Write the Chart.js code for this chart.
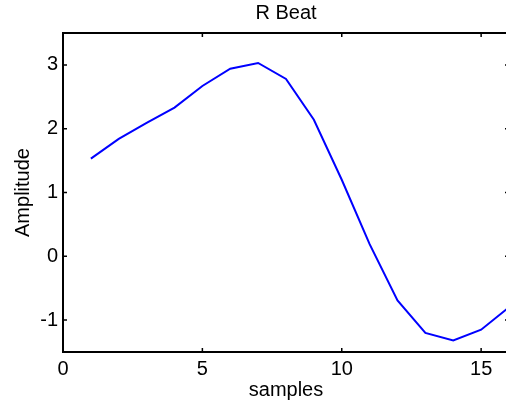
<!DOCTYPE html>
<html>
<head>
<meta charset="utf-8">
<script src="https://cdn.jsdelivr.net/npm/chart.js@4/dist/chart.umd.min.js"></script>
<style>
  html, body { margin: 0; padding: 0; background: #fff; overflow: hidden; }
  #wrap { width: 512px; height: 407px; }
</style>
</head>
<body>
<div id="wrap"><canvas id="myChart"></canvas></div>
<script>
// R beat samples
const samples = [1, 2, 3, 4, 5, 6, 7, 8, 9, 10, 11, 12, 13, 14, 15, 16];
const amplitude = [1.53, 1.84, 2.09, 2.33, 2.67, 2.94, 3.03, 2.78, 2.14, 1.2, 0.19, -0.69, -1.2, -1.32, -1.15, -0.8];
const xTicks = [0, 5, 10, 15];
const yTicks = [-1, 0, 1, 2, 3];

const fontFamily = "'Liberation Sans', Arial, Helvetica, sans-serif";

// box around the axes with small inward ticks on all four sides
const matlabBox = {
  id: "matlabBox",
  afterDraw(chart) {
    const { ctx, chartArea: a, scales } = chart;
    ctx.save();
    ctx.strokeStyle = "#000";
    ctx.lineWidth = 1.5;
    ctx.beginPath();
    xTicks.forEach((v) => {
      const px = scales.x.getPixelForValue(v);
      ctx.moveTo(px, a.bottom);
      ctx.lineTo(px, a.bottom - 4);
      ctx.moveTo(px, a.top);
      ctx.lineTo(px, a.top + 4);
    });
    yTicks.forEach((v) => {
      const py = scales.y.getPixelForValue(v);
      ctx.moveTo(a.left, py);
      ctx.lineTo(a.left + 4, py);
      ctx.moveTo(a.right, py);
      ctx.lineTo(a.right - 4, py);
    });
    ctx.stroke();
    ctx.lineWidth = 2;
    ctx.strokeRect(a.left, a.top, a.right - a.left, a.bottom - a.top);
    ctx.restore();
  },
};

const ctx = document.getElementById("myChart").getContext("2d");
const chart = new Chart(ctx, {
  type: "line",
  data: {
    datasets: [
      {
        data: samples.map((s, i) => ({ x: s, y: amplitude[i] })),
        borderColor: "#0000ff",
        borderWidth: 2,
        pointRadius: 0,
        tension: 0,
        fill: false,
      },
    ],
  },
  options: {
    animation: false,
    responsive: true,
    maintainAspectRatio: false,
    layout: { padding: { left: 0, right: 3, top: 0, bottom: 0 } },
    plugins: {
      legend: { display: false },
      tooltip: { enabled: false },
      title: {
        display: true,
        fullSize: false,
        text: "R Beat",
        color: "#000",
        font: { family: fontFamily, size: 20, weight: "normal" },
        padding: { top: 1.5, bottom: 7.5 },
      },
    },
    scales: {
      x: {
        type: "linear",
        min: 0,
        max: 16,
        afterBuildTicks: (scale) => {
          scale.ticks = xTicks.map((v) => ({ value: v }));
        },
        afterFit: (scale) => {
          scale.height = 55;
        },
        grid: { display: false, drawTicks: false },
        border: { display: false },
        ticks: {
          color: "#000",
          padding: 5,
          maxRotation: 0,
          font: { family: fontFamily, size: 20 },
        },
        title: {
          display: true,
          text: "samples",
          color: "#000",
          font: { family: fontFamily, size: 20 },
          padding: { top: 0, bottom: 5 },
        },
      },
      y: {
        min: -1.5,
        max: 3.5,
        afterBuildTicks: (scale) => {
          scale.ticks = yTicks.map((v) => ({ value: v }));
        },
        afterFit: (scale) => {
          scale.width = 63;
        },
        grid: { display: false, drawTicks: false },
        border: { display: false },
        ticks: {
          color: "#000",
          padding: 5,
          font: { family: fontFamily, size: 20 },
        },
        title: {
          display: true,
          text: "Amplitude",
          color: "#000",
          font: { family: fontFamily, size: 20 },
          padding: { top: 11, bottom: 0 },
        },
      },
    },
  },
  plugins: [matlabBox],
});
</script>
</body>
</html>
